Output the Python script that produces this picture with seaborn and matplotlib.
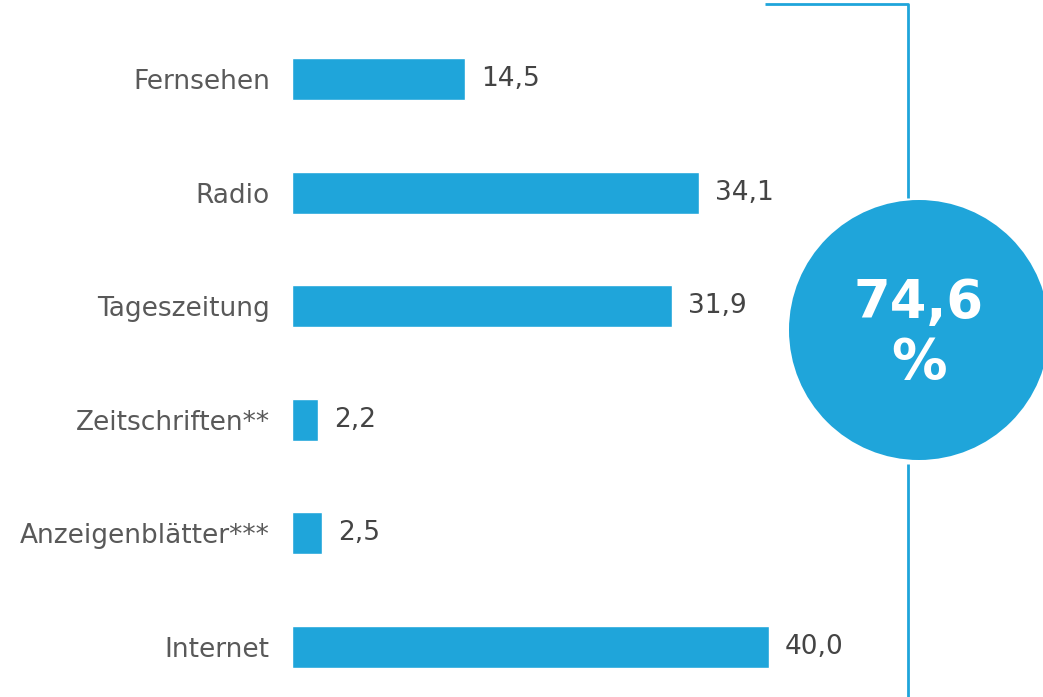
import matplotlib
matplotlib.use("Agg")
import matplotlib.pyplot as plt
import seaborn as sns
import pandas as pd
from matplotlib.patches import Circle

categories = ["Fernsehen", "Radio", "Tageszeitung", "Zeitschriften**", "Anzeigenblätter***", "Internet"]
values = [14.5, 34.1, 31.9, 2.2, 2.5, 40.0]
value_labels = ["14,5", "34,1", "31,9", "2,2", "2,5", "40,0"]
total_label = "74,6"

sns.set_theme(style="white")
plt.rcParams['font.family'] = ['DejaVu Sans']

BLUE = "#1FA5DA"
TEXT = "#595959"

W, H = 1043, 697
fig = plt.figure(figsize=(W / 100, H / 100), dpi=100)

ax = fig.add_axes([292 / W, 0, (W - 292) / W, 1])
df = pd.DataFrame({"cat": categories, "val": values})
sns.barplot(data=df, x="val", y="cat", orient="h", color=BLUE, saturation=1,
            width=0.37, ax=ax)
px_per_unit = 477 / 40.0
ax.set_xlim(0, (W - 292) / px_per_unit)
step = 113.6
ax.set_ylim((H - 79) / step, -79 / step)
for s in ax.spines.values():
    s.set_visible(False)
ax.set_xlabel("")
ax.set_ylabel("")
ax.set_xticks([])
ax.tick_params(axis="y", length=0, pad=16, labelsize=19, labelcolor=TEXT)
for i, (v, lab) in enumerate(zip(values, value_labels)):
    ax.text(v + 16 / px_per_unit, i, lab, va="center", ha="left", fontsize=19, color="#444444")

# overlay for decoration
ov = fig.add_axes([0, 0, 1, 1])
ov.set_xlim(0, W)
ov.set_ylim(H, 0)
ov.axis("off")
ov.patch.set_alpha(0)
ov.plot([765, 908, 908], [4, 4, 198], color=BLUE, lw=2, solid_capstyle="butt")
ov.plot([908, 908], [464, H], color=BLUE, lw=2, solid_capstyle="butt")
ov.add_patch(Circle((919, 330), 130, color=BLUE, lw=0))
ov.text(919, 303, total_label, ha="center", va="center", color="white",
        fontsize=38, fontweight="bold")
ov.text(919, 363, "%", ha="center", va="center", color="white",
        fontsize=40, fontweight="bold")

fig.savefig("out.png", dpi=100)
